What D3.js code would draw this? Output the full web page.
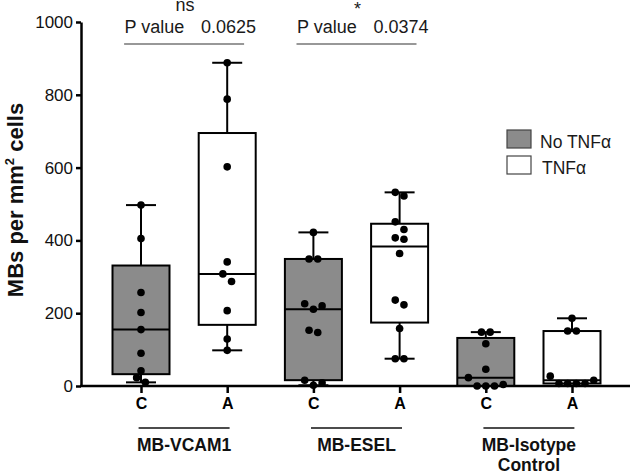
<!DOCTYPE html>
<html>
<head>
<meta charset="utf-8">
<script src="https://cdn.jsdelivr.net/npm/d3@7"></script>
<style>
  html, body { margin: 0; padding: 0; background: #fff; }
  svg { display: block; font-family: "Liberation Sans", Arial, sans-serif; }
</style>
</head>
<body>
<svg id="chart" width="630" height="473"></svg>
<script>
// ---------------- DATA ----------------
const boxKeys      = ["VCAM1-C", "VCAM1-A", "ESEL-C", "ESEL-A", "Iso-C", "Iso-A"];
const tickLabels   = ["C", "A", "C", "A", "C", "A"];
const treatment    = ["No TNFα", "TNFα", "No TNFα", "TNFα", "No TNFα", "TNFα"];
const groupNames   = [["MB-VCAM1"], ["MB-ESEL"], ["MB-Isotype", "Control"]];
const legendLabels = ["No TNFα", "TNFα"];
const yTicks       = [0, 200, 400, 600, 800, 1000];

const vcamC = [497, 405, 257, 202, 155, 90, 42, 23, 10];
const vcamA = [888, 788, 602, 341, 308, 287, 207, 129, 98];
const eselC = [422, 349, 349, 226, 220, 211, 153, 147, 16, 9, 2];
const eselA = [532, 522, 451, 430, 407, 403, 364, 236, 223, 158, 75, 75];
const isoC  = [148, 148, 116, 46, 23, 4, 0, 0, 0];
const isoA  = [186, 151, 151, 27, 16, 7, 7, 7, 7];
const seriesValues = [vcamC, vcamA, eselC, eselA, isoC, isoA];

const pLabel   = "P value";
const pValues  = ["0.0625", "0.0374"];
const sigMarks = ["ns", "*"];

// ---------------- LAYOUT ----------------
const svg = d3.select("#chart");
const colors = d3.scaleOrdinal().domain(legendLabels).range(["#8b8b8b", "#ffffff"]);

const y = d3.scaleLinear().domain([0, 1000]).range([386, 22]);
const x = d3.scalePoint().domain(boxKeys).range([141, 572]);
const axisX = 81;
const boxW = 57, capW = 30, dotR = 3.8, dotStep = 8.7;

// Prism-style quartiles (rank = (n+1)p)
function prismQ(sorted, p) {
  const n = sorted.length;
  let r = (n + 1) * p;
  if (r < 1) r = 1;
  if (r > n) r = n;
  const lo = Math.floor(r), hi = Math.ceil(r);
  return sorted[lo - 1] + (r - lo) * (sorted[hi - 1] - sorted[lo - 1]);
}

// row-based beeswarm (pixel space)
function swarm(vals) {
  const s = vals.slice().sort((a, b) => a - b);
  const rows = [];
  let cur = null;
  s.forEach(v => {
    const py = y(v);
    if (!cur || Math.abs(py - cur.y0) > 8.5) { cur = { y0: py, pts: [] }; rows.push(cur); }
    cur.pts.push(v);
  });
  const out = [];
  rows.forEach(r => {
    const n = r.pts.length;
    r.pts.forEach((v, i) => {
      let off;
      if (n % 2 === 1) {
        const k = Math.ceil(i / 2);
        off = i === 0 ? 0 : (i % 2 === 1 ? k : -k);
      } else {
        const k = Math.floor(i / 2) + 0.5;
        off = i % 2 === 0 ? k : -k;
      }
      out.push({ v, off: off * dotStep });
    });
  });
  return out;
}

const boxes = boxKeys.map((k, i) => {
  const s = seriesValues[i].slice().sort((a, b) => a - b);
  return {
    key: k, fill: colors(treatment[i]),
    min: s[0], max: s[s.length - 1],
    q1: prismQ(s, 0.25), med: prismQ(s, 0.5), q3: prismQ(s, 0.75),
    pts: swarm(s)
  };
});

// ---------------- BOXES ----------------
const g = svg.append("g");
boxes.forEach(b => {
  const cx = x(b.key);
  const bg = g.append("g");
  const ln = (x1, x2, y1, y2) => bg.append("line").attr("x1", x1).attr("x2", x2).attr("y1", y1).attr("y2", y2)
    .attr("stroke", "#000").attr("stroke-width", 2);
  ln(cx, cx, y(b.q3), y(b.max));
  ln(cx, cx, y(b.q1), y(b.min));
  ln(cx - capW / 2, cx + capW / 2, y(b.max), y(b.max));
  ln(cx - capW / 2, cx + capW / 2, y(b.min), y(b.min));
  bg.append("rect").attr("x", cx - boxW / 2).attr("width", boxW)
    .attr("y", y(b.q3)).attr("height", y(b.q1) - y(b.q3))
    .attr("fill", b.fill).attr("stroke", "#000").attr("stroke-width", 2);
  ln(cx - boxW / 2, cx + boxW / 2, y(b.med), y(b.med));
  bg.selectAll("circle").data(b.pts).join("circle")
    .attr("cx", d => cx + d.off).attr("cy", d => y(d.v)).attr("r", dotR).attr("fill", "#000");
});

// ---------------- AXES ----------------
const yAxis = svg.append("g").attr("transform", `translate(${axisX},0)`)
  .call(d3.axisLeft(y).tickValues(yTicks).tickFormat(d3.format("d")).tickSize(5).tickSizeOuter(0).tickPadding(3));
yAxis.select(".domain").attr("stroke-width", 2.5);
yAxis.selectAll(".tick line").attr("stroke-width", 2.5);
yAxis.selectAll(".tick text").attr("font-size", 17).attr("fill", "#111")
  .attr("font-family", "Liberation Sans, Arial, sans-serif");

const xAxis = svg.append("g").attr("transform", `translate(0,${y(0)})`)
  .call(d3.axisBottom(x).tickSize(7).tickSizeOuter(0).tickPadding(5).tickFormat((d, i) => tickLabels[i]));
xAxis.select(".domain").remove();
svg.append("line").attr("x1", axisX - 1).attr("x2", 630).attr("y1", y(0)).attr("y2", y(0))
  .attr("stroke", "#000").attr("stroke-width", 2.5);
xAxis.selectAll(".tick line").attr("stroke-width", 2.5);
xAxis.selectAll(".tick text").attr("font-size", 16).attr("font-weight", "bold").attr("fill", "#000")
  .attr("font-family", "Liberation Sans, Arial, sans-serif");

// y title
const yt = svg.append("text").attr("transform", "translate(23,200) rotate(-90)")
  .attr("text-anchor", "middle").attr("font-size", 22).attr("font-weight", "bold").attr("fill", "#111");
yt.append("tspan").text("MBs per mm");
yt.append("tspan").text("2").attr("font-size", 13).attr("dy", -9);
yt.append("tspan").text(" cells").attr("dy", 9);

// group labels
groupNames.forEach((lines, gi) => {
  const mid = (x(boxKeys[gi * 2]) + x(boxKeys[gi * 2 + 1])) / 2;
  svg.append("line").attr("x1", mid - 45.5).attr("x2", mid + 45.5).attr("y1", 428).attr("y2", 428)
    .attr("stroke", "#111").attr("stroke-width", 1.5);
  lines.forEach((t, li) => {
    svg.append("text").attr("x", mid).attr("y", 451 + li * 19.5).attr("text-anchor", "middle")
      .attr("font-size", 17.5).attr("font-weight", "bold").attr("fill", "#111").text(t);
  });
});

// significance annotations
pValues.forEach((pv, gi) => {
  const mid = (x(boxKeys[gi * 2]) + x(boxKeys[gi * 2 + 1])) / 2;
  svg.append("line").attr("x1", mid - 60).attr("x2", mid + 60).attr("y1", 44).attr("y2", 44)
    .attr("stroke", "#333").attr("stroke-width", 1.2);
  svg.append("text").attr("x", mid - 59.5).attr("y", 32.5).attr("font-size", 18).attr("fill", "#1a1a1a").text(pLabel);
  svg.append("text").attr("x", mid + 72).attr("y", 32.5).attr("text-anchor", "end")
    .attr("font-size", 18).attr("fill", "#1a1a1a").text(pv);
  svg.append("text").attr("x", mid + 1).attr("y", sigMarks[gi] === "*" ? 14.5 : 10.5).attr("text-anchor", "middle")
    .attr("font-size", 18).attr("fill", "#1a1a1a").text(sigMarks[gi]);
});

// legend
legendLabels.forEach((l, i) => {
  const ly = 130 + i * 26;
  svg.append("rect").attr("x", 507).attr("y", ly).attr("width", 24).attr("height", 18)
    .attr("fill", colors(l)).attr("stroke", "#444").attr("stroke-width", 1.2);
  svg.append("text").attr("x", i === 0 ? 540 : 542).attr("y", ly + 17.5).attr("font-size", 17.5)
    .attr("fill", "#1a1a1a").text(l);
});
</script>
</body>
</html>
